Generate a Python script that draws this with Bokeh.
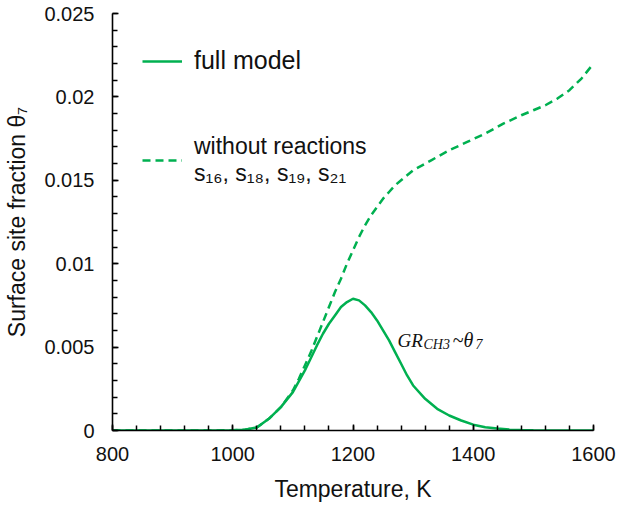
from bokeh.plotting import figure
from bokeh.models import Range1d, FixedTicker, Legend, LegendItem, Label
from bokeh.embed import file_html
from bokeh.resources import INLINE

# ---------------- data ----------------
temps_full = [800, 900, 1000, 1020, 1040, 1060, 1080, 1100, 1120, 1140, 1150,
              1160, 1170, 1180, 1190, 1200, 1210, 1220, 1230, 1240, 1250, 1260,
              1270, 1280, 1290, 1300, 1320, 1340, 1360, 1380, 1400, 1420, 1440,
              1460, 1480, 1500, 1550, 1600]
theta_full = [0.0, 0.0, 0.00001, 0.00005, 0.00018, 0.0007, 0.0014, 0.0023,
              0.0036, 0.0051, 0.0058, 0.0064, 0.0069, 0.0074, 0.0077, 0.0079,
              0.0078, 0.0075, 0.0071, 0.0066, 0.0060, 0.0054, 0.0047, 0.0040,
              0.0033, 0.0027, 0.0019, 0.0013, 0.0009, 0.0006, 0.00035, 0.0002,
              0.00012, 0.00006, 0.00003, 0.00001, 0.0, 0.0]

temps_without = [800, 900, 1000, 1020, 1040, 1060, 1080, 1100, 1110, 1120, 1130,
                 1140, 1150, 1160, 1170, 1180, 1190, 1200, 1210, 1220, 1230, 1240,
                 1250, 1260, 1270, 1280, 1290, 1300, 1315, 1330, 1360, 1390, 1420,
                 1450, 1480, 1500, 1520, 1540, 1560, 1580, 1600]
theta_without = [0.0, 0.0, 0.00001, 0.00005, 0.00018, 0.0007, 0.0014, 0.0024,
                 0.0031, 0.0039, 0.0047, 0.0056, 0.0065, 0.0074, 0.0083, 0.0091,
                 0.0100, 0.0108, 0.0116, 0.0123, 0.0129, 0.0134, 0.0139, 0.0143,
                 0.0147, 0.0150, 0.0153, 0.0156, 0.0159, 0.0162, 0.0168, 0.0173,
                 0.0178, 0.0184, 0.0189, 0.0192, 0.0195, 0.0199, 0.0204, 0.0211,
                 0.0220]

x_ticks = [800, 1000, 1200, 1400, 1600]
x_tick_labels = ["800", "1000", "1200", "1400", "1600"]
y_ticks = [0, 0.005, 0.01, 0.015, 0.02, 0.025]
y_tick_labels = ["0", "0.005", "0.01", "0.015", "0.02", "0.025"]

label_full = "full model"
label_without = "without reactions\ns\u2081\u2086, s\u2081\u2088, s\u2081\u2089, s\u2082\u2081"
x_title = "Temperature, K"
y_title = "Surface site fraction \u03b8\u2087"

# annotation "GR_CH3 ~ θ_7" anchor (data units)
annot_x, annot_y = 1274, 0.0054

GREEN = "#00B050"
FONT = "Liberation Sans"
SERIF = "Liberation Serif"
TXT = "#111111"

p = figure(width=618, height=514, output_backend="svg", toolbar_location=None,
           x_range=Range1d(800, 1600), y_range=Range1d(0, 0.025),
           min_border_left=112, min_border_right=25, min_border_top=13,
           min_border_bottom=84, background_fill_color="white",
           border_fill_color="white")
p.outline_line_color = None
p.grid.visible = False

p.xaxis.ticker = FixedTicker(ticks=x_ticks, minor_ticks=list(range(800, 1601, 40)))
p.yaxis.ticker = FixedTicker(ticks=y_ticks, minor_ticks=[i / 1000 for i in range(26)])
p.xaxis.major_label_overrides = dict(zip(x_ticks, x_tick_labels))
p.yaxis.major_label_overrides = dict(zip(y_ticks, y_tick_labels))

for ax in (p.xaxis, p.yaxis):
    ax.axis_line_color = "black"
    ax.axis_line_width = 1.6
    ax.major_tick_line_color = "black"
    ax.minor_tick_line_color = "black"
    ax.major_tick_line_width = 1.5
    ax.minor_tick_line_width = 1.5
    ax.major_tick_in = 6
    ax.major_tick_out = 0
    ax.minor_tick_in = 5
    ax.minor_tick_out = 0
    ax.major_label_text_font = FONT
    ax.major_label_text_font_size = "20px"
    ax.major_label_text_color = TXT
    ax.axis_label_text_font = FONT
    ax.axis_label_text_font_size = "23px"
    ax.axis_label_text_font_style = "normal"
    ax.axis_label_text_color = TXT

p.xaxis.major_label_standoff = 16
p.yaxis.major_label_standoff = 18
p.xaxis.axis_label = x_title
p.xaxis.axis_label_standoff = 12
p.yaxis.axis_label = y_title
p.yaxis.axis_label_standoff = 11

r_full = p.line(temps_full, theta_full, line_color=GREEN, line_width=2.5)
r_without = p.line(temps_without, theta_without, line_color=GREEN, line_width=2.5,
                   line_dash="8 5")

common = dict(padding=0, margin=0, glyph_width=40, label_standoff=12,
              border_line_alpha=0, background_fill_alpha=0,
              label_text_font=FONT, label_text_color=TXT)
leg1 = Legend(items=[LegendItem(label=label_full, renderers=[r_full])],
              location=(30, 355), glyph_height=28, label_height=28,
              label_text_font_size="25px", **common)
leg2 = Legend(items=[LegendItem(label=label_without, renderers=[r_without])],
              location=(30, 242), glyph_height=56, label_height=56,
              label_text_font_size="23px", **common)
p.add_layout(leg1)
p.add_layout(leg2)

annot_parts = [("GR", 0, 0, "19px"), ("CH3", 26, -4, "14px"),
               ("~", 55, 0, "20px"), ("\u03b8", 66, 0, "20px"),
               ("7", 78, -4, "14px")]
for txt, dx, dy, size in annot_parts:
    p.add_layout(Label(x=annot_x, y=annot_y, x_offset=dx, y_offset=dy, text=txt,
                       text_font=SERIF, text_font_style="italic",
                       text_font_size=size, text_color=TXT,
                       text_baseline="alphabetic"))

open("out.html", "w").write(file_html(p, INLINE))
